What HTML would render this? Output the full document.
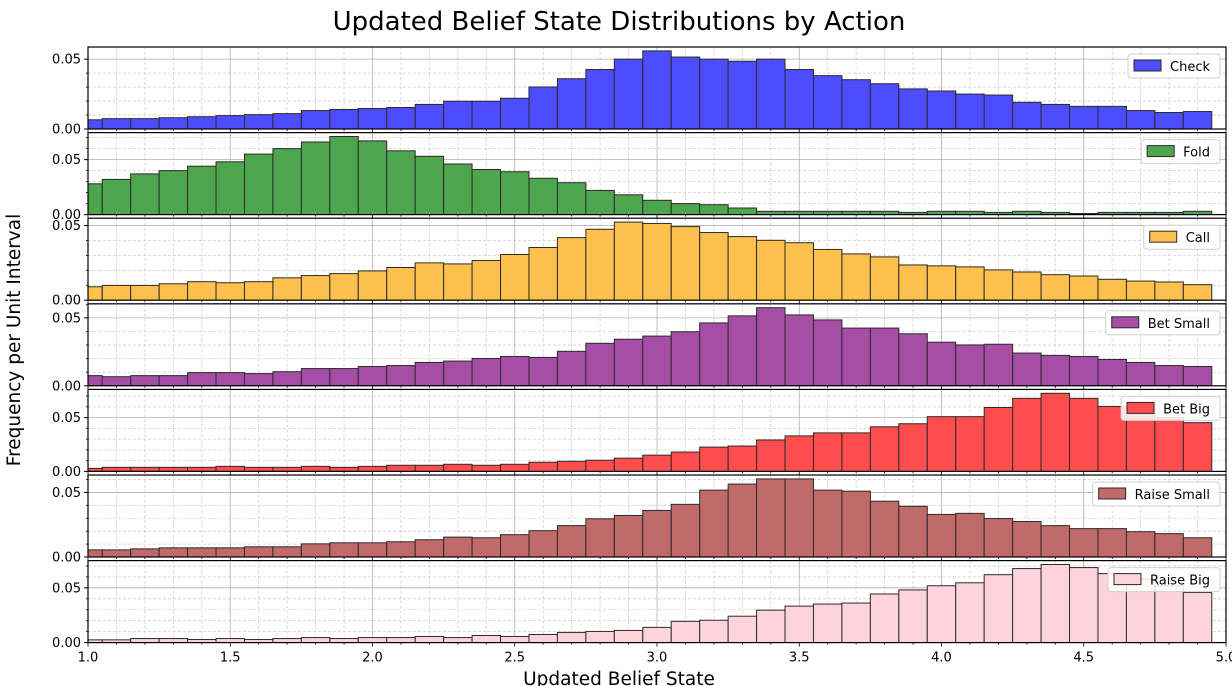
<!DOCTYPE html>
<html><head><meta charset="utf-8">
<style>
html,body{margin:0;padding:0;background:#fff;}
svg{display:block;font-family:"DejaVu Sans","Liberation Sans",sans-serif;}
</style></head>
<body>
<svg id="chart" width="1232" height="686" xmlns="http://www.w3.org/2000/svg">
<text x="619" y="30" font-size="26" text-anchor="middle" fill="#000">Updated Belief State Distributions by Action</text>
<text x="0" y="0" font-size="18.5" text-anchor="middle" transform="translate(20,340) rotate(-90)">Frequency per Unit Interval</text>
<text x="619" y="685" font-size="18.5" text-anchor="middle">Updated Belief State</text>
<g id="panels"></g>
</svg>
<script>
const actions = ["Check","Fold","Call","Bet Small","Bet Big","Raise Small","Raise Big"];
const colors = ["#4d4dff","#4da64d","#ffc04d","#a64da6","#ff4d4d","#c06a6a","#ffd3db"];
const binStart = 0.95;
const binWidth = 0.1;
const checkVals = [0.0066,0.0074,0.0074,0.0081,0.0088,0.0096,0.0103,0.011,0.0132,0.014,0.0147,0.0154,0.0176,0.0199,0.0199,0.022,0.0301,0.036,0.0426,0.05,0.0559,0.0515,0.05,0.0485,0.05,0.0426,0.0382,0.0353,0.0324,0.0287,0.0272,0.025,0.0243,0.0191,0.0176,0.0162,0.0162,0.0132,0.0118,0.0125];
const foldVals = [0.028,0.032,0.037,0.040,0.044,0.048,0.055,0.060,0.066,0.071,0.067,0.058,0.053,0.046,0.041,0.039,0.033,0.029,0.022,0.018,0.013,0.010,0.009,0.006,0.003,0.003,0.003,0.003,0.003,0.002,0.003,0.003,0.002,0.003,0.002,0.001,0.002,0.002,0.002,0.003];
const callVals = [0.009,0.0099,0.0099,0.011,0.0124,0.0117,0.0124,0.015,0.0165,0.0178,0.0196,0.0219,0.025,0.0243,0.0266,0.0306,0.0353,0.0419,0.0475,0.0523,0.0514,0.0493,0.0453,0.0426,0.0401,0.0385,0.034,0.031,0.029,0.0236,0.0230,0.0223,0.0203,0.0189,0.0171,0.0162,0.014,0.0128,0.0122,0.0104];
const betSmallVals = [0.0075,0.0067,0.0075,0.0075,0.0097,0.0097,0.009,0.0104,0.0127,0.0127,0.0142,0.0149,0.0172,0.0182,0.0201,0.0216,0.0209,0.0254,0.0313,0.0343,0.0366,0.0398,0.0463,0.0515,0.0575,0.0522,0.0485,0.0425,0.0425,0.0383,0.0321,0.0301,0.0306,0.0241,0.0224,0.0216,0.0194,0.0172,0.0149,0.0142];
const betBigVals = [0.0028,0.0038,0.0038,0.0038,0.0038,0.0047,0.0038,0.0038,0.0047,0.0038,0.0047,0.0057,0.0057,0.0066,0.0057,0.0066,0.0085,0.0094,0.0104,0.0123,0.0151,0.018,0.0226,0.0236,0.0292,0.033,0.0358,0.0358,0.0415,0.0443,0.0509,0.0509,0.0594,0.0679,0.0726,0.0679,0.0604,0.055,0.05,0.0453];
const raiseSmallVals = [0.0055,0.0055,0.0063,0.0071,0.0071,0.0071,0.0079,0.0079,0.0102,0.011,0.011,0.0118,0.0134,0.0154,0.0149,0.0173,0.0204,0.0243,0.0296,0.0322,0.0361,0.0408,0.0518,0.0565,0.0605,0.0605,0.0518,0.051,0.0432,0.0393,0.033,0.0338,0.0298,0.0275,0.0243,0.022,0.022,0.0196,0.0181,0.0149];
const raiseBigVals = [0.0025,0.0025,0.0037,0.0037,0.0028,0.0037,0.0028,0.0037,0.0046,0.0037,0.0046,0.0046,0.0056,0.0046,0.0065,0.0056,0.0074,0.0093,0.0102,0.0111,0.0139,0.0194,0.0204,0.0241,0.0296,0.0333,0.0352,0.0361,0.0444,0.0481,0.0519,0.0546,0.0620,0.0676,0.0713,0.0685,0.063,0.058,0.052,0.0457];
const xTickLabels = ["1.0","1.5","2.0","2.5","3.0","3.5","4.0","4.5","5.0"];
const yTickLabels = ["0.00","0.05"];

const series = [checkVals,foldVals,callVals,betSmallVals,betBigVals,raiseSmallVals,raiseBigVals];
const NS = "http://www.w3.org/2000/svg";
const L = 88, R = 1226, xMin = 1.0, xMax = 5.0;
const xs = v => L + (v - xMin) / (xMax - xMin) * (R - L);
function mk(tag, attrs, parent){ const e = document.createElementNS(NS, tag); for (const k in attrs) e.setAttribute(k, attrs[k]); parent.appendChild(e); return e; }
const root = document.getElementById("panels");

series.forEach((vals, p) => {
  const top = 47 + p * 85.6, h = 82, bot = top + h;
  const ymax = Math.max(...vals) * 1.05;
  const ys = v => bot - v / ymax * h;
  const g = mk("g", {}, root);
  
  
  const cid = "clip" + p;
  const cp = mk("clipPath", {id: cid}, g);
  mk("rect", {x: L, y: top, width: R - L, height: h}, cp);
  const gridG = mk("g", {"clip-path": "url(#" + cid + ")"}, g);
  for (let i = 0; i <= 40; i++) {
    const x = xs(xMin + i * 0.1);
    if (i % 5 === 0) continue;
    mk("line", {x1: x, x2: x, y1: top, y2: bot, stroke: "#d0d0d0", "stroke-width": 0.8, "stroke-dasharray": "3,2"}, gridG);
  }
  for (let v = 0.01; v < ymax; v += 0.01) {
    if (Math.abs(v - 0.05) < 1e-6) continue;
    mk("line", {x1: L, x2: R, y1: ys(v), y2: ys(v), stroke: "#d0d0d0", "stroke-width": 0.8, "stroke-dasharray": "3,2"}, gridG);
  }
  xTickLabels.forEach(t => { const x = xs(parseFloat(t)); mk("line", {x1: x, x2: x, y1: top, y2: bot, stroke: "#b0b0b0", "stroke-width": 0.8}, gridG); });
  yTickLabels.forEach(t => { const y = ys(parseFloat(t)); mk("line", {x1: L, x2: R, y1: y, y2: y, stroke: "#b0b0b0", "stroke-width": 0.8}, gridG); });
  const barG = mk("g", {"clip-path": "url(#" + cid + ")"}, g);
  vals.forEach((v, i) => {
    const x0 = xs(binStart + i * binWidth), x1 = xs(binStart + (i + 1) * binWidth);
    const r = mk("rect", {x: x0, y: ys(v), width: x1 - x0, height: bot - ys(v), fill: colors[p], stroke: "#2b2b2b", "stroke-width": 1}, barG);
    
    
  });
  mk("rect", {x: L, y: top, width: R - L, height: h, fill: "none", stroke: "#000", "stroke-width": 1.2}, g);
  yTickLabels.forEach(t => {
    const y = ys(parseFloat(t));
    mk("line", {x1: L - 4, x2: L, y1: y, y2: y, stroke: "#000"}, g);
    const tx = mk("text", {x: L - 7, y: y + 4.5, "font-size": 13, "text-anchor": "end"}, g);
    tx.textContent = t;
    
    
  });
  for (let v = 0.01; v < ymax; v += 0.01) {
    if (Math.abs(v - 0.05) < 1e-6) continue;
    mk("line", {x1: L - 2, x2: L, y1: ys(v), y2: ys(v), stroke: "#000", "stroke-width": 0.8}, g);
  }
  for (let i = 0; i <= 40; i++) {
    const x = xs(xMin + i * 0.1);
    mk("line", {x1: x, x2: x, y1: bot, y2: bot + (i % 5 === 0 ? 4 : 2), stroke: "#000", "stroke-width": 0.8}, g);
  }
  if (p === series.length - 1) {
    xTickLabels.forEach(t => {
      const tx = mk("text", {x: xs(parseFloat(t)), y: bot + 19, "font-size": 13, "text-anchor": "middle"}, g);
      tx.textContent = t;
      
      
    });
  }
  const lg = mk("g", {}, g);
  
  
  const lbox = mk("rect", {x: 0, y: top + 7, width: 10, height: 24, rx: 3, fill: "#fff", "fill-opacity": 0.85, stroke: "#d0d0d0"}, lg);
  const lt = mk("text", {x: 0, y: top + 24, "font-size": 13}, lg);
  lt.textContent = actions[p];
  const tw = lt.getComputedTextLength();
  const bw = tw + 52;
  const bx = R - 6 - bw;
  lbox.setAttribute("x", bx); lbox.setAttribute("width", bw);
  mk("rect", {x: bx + 6, y: top + 13, width: 27, height: 11, fill: colors[p], stroke: "#2b2b2b"}, lg);
  lt.setAttribute("x", bx + 42);
});
</script>
</body></html>
